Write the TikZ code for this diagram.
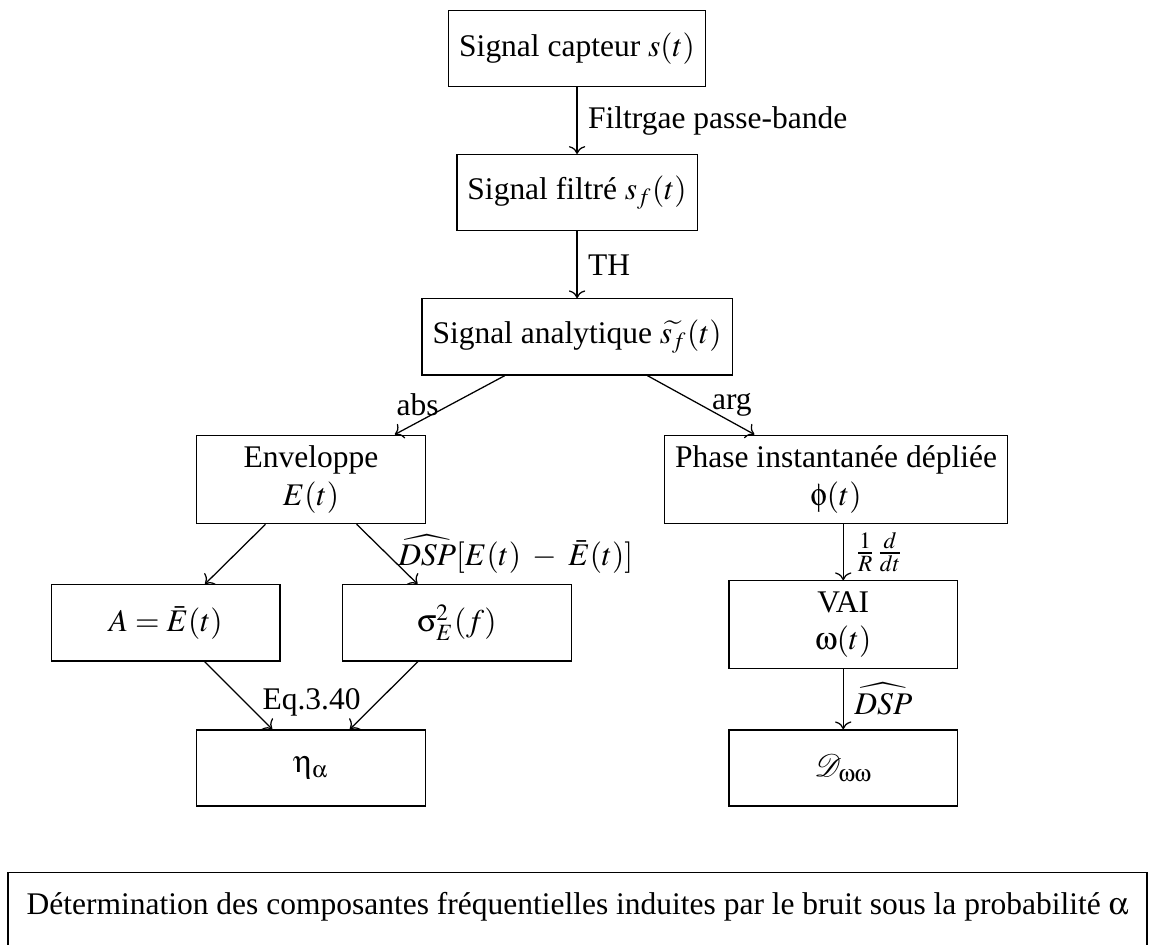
\documentclass[tikz,border=0pt]{standalone}
\usepackage{amsmath,amssymb}
\usepackage{mathptmx}
\usepackage[Symbol]{upgreek}
\usepackage{fontspec}
\setmainfont{Liberation Serif}
\usetikzlibrary{positioning,arrows.meta}
\tikzset{
  bloc/.style={rectangle, draw, minimum width=2.55cm, minimum height=0.85cm, align=center},
  fleche/.style={->}
}
\begin{document}
\begin{tikzpicture}
\useasboundingbox (0,0) rectangle (12.856,-10.535);
% chaine principale
\node[bloc] (capteur) at (6.44,-0.54) {Signal capteur $s(t)$};
\node[bloc] (filtre) at (6.44,-2.15) {Signal filtré $s_f(t)$};
\node[bloc] (analytique) at (6.44,-3.76) {Signal analytique $\widetilde{s_f}(t)$};
% branche enveloppe
\node[bloc] (enveloppe) at (3.47,-5.35) {Enveloppe\\$E(t)$};
\node[bloc] (amplitude) at (1.85,-6.95) {$A=\bar{E}(t)$};
\node[bloc] (variance) at (5.10,-6.95) {$\upsigma_E^2(f)$};
\node[bloc] (eta) at (3.47,-8.57) {$\upeta_\upalpha$};
% branche phase
\node[bloc] (phase) at (9.33,-5.35) {Phase instantanée dépliée\\$\upphi(t)$};
\node[bloc] (vai) at (9.41,-6.97) {VAI\\$\upomega(t)$};
\node[bloc] (dsp) at (9.41,-8.57) {$\mathcal{D}_{\upomega\upomega}$};
\node[bloc, anchor=north, minimum width=12.71cm, text height=10pt, text depth=12pt] (bruit) at (6.445,-9.73) {Détermination des composantes fréquentielles induites par le bruit sous la probabilité $\upalpha$};

\draw[fleche] (capteur) -- node[right] {Filtrgae passe-bande} (filtre);
\draw[fleche] (filtre) -- node[right] {TH} (analytique);
\draw[fleche] (analytique) -- node[left] {abs} (enveloppe);
\draw[fleche] (analytique) -- node[right] {arg} (phase);
\draw[fleche] (enveloppe) -- (amplitude);
\draw[fleche] (enveloppe) -- node[right] {$\widehat{DSP}[E(t)\;-\;\bar{E}(t)]$} (variance);
\draw[fleche] (amplitude) -- node[pos=0.6, right=2pt] {Eq.3.40} (eta);
\draw[fleche] (variance) -- (eta);
\draw[fleche] (phase.south -| vai) -- node[right] {$\frac{1}{R}\frac{d}{dt}$} (vai);
\draw[fleche] (vai) -- node[right] {$\widehat{DSP}$} (dsp);
\end{tikzpicture}
\end{document}
